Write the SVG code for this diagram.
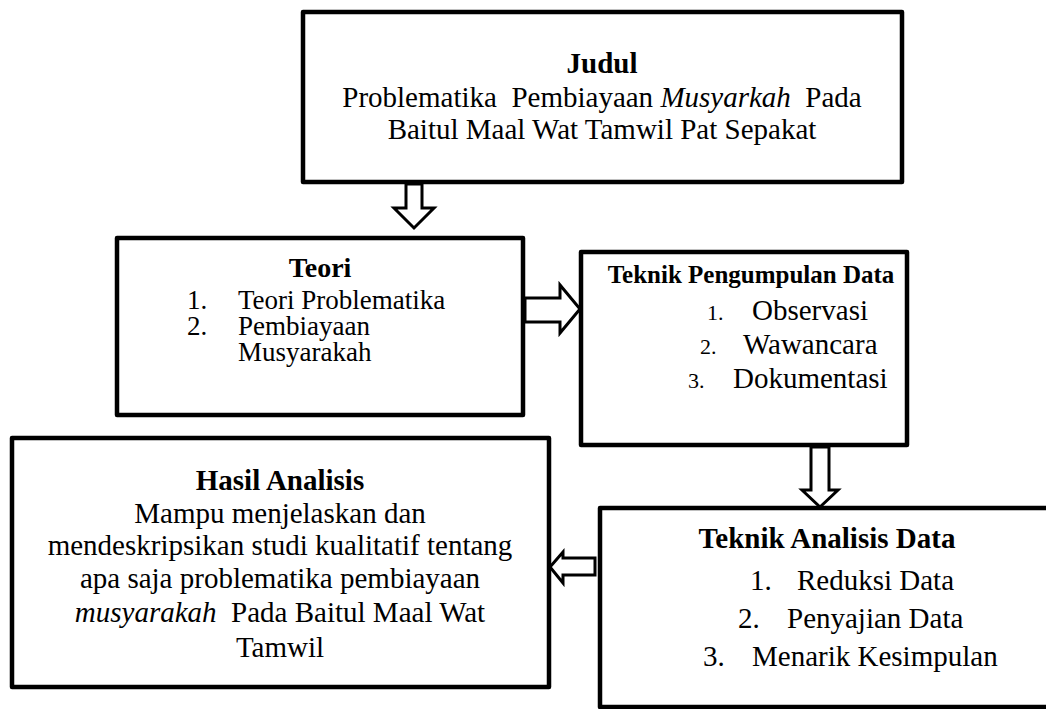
<svg xmlns="http://www.w3.org/2000/svg" width="1046" height="709" viewBox="0 0 1046 709">
<style>
.box{fill:#fff;stroke:#000;stroke-width:4.5;stroke-linejoin:round}
.arr{fill:#fff;stroke:#000;stroke-width:3;stroke-linejoin:miter}
text{font-family:"Liberation Serif","Times New Roman",serif;fill:#000;white-space:pre}
.t{font-size:29px}
.h{font-size:29px;font-weight:bold}
.c{text-anchor:middle}
.it{font-style:italic}
.s27{font-size:27px}
.s22{font-size:22px}
</style>
<rect width="1046" height="709" fill="#fff"/>
<g id="connectors">
<path class="arr" d="M406,184 L406,208 L394,208 L414,228 L434,208 L422,208 L422,184 Z"/>
<path class="arr" d="M525,298 L560,298 L560,285 L580,309 L560,333 L560,322 L525,322 Z"/>
<path class="arr" d="M811,447 L811,490 L802,490 L820,507 L838,490 L829,490 L829,447 Z"/>
<path class="arr" d="M595,558 L563,558 L563,552 L550,567 L563,583 L563,575 L595,575 Z"/>
</g>
<g id="judul">
<rect class="box" x="303" y="12" width="599" height="170"/>
<text class="h c" x="602" y="73">Judul</text>
<text class="t c" x="602" y="107">Problematika  Pembiayaan <tspan class="it">Musyarkah</tspan>  Pada</text>
<text class="t c" x="602" y="139">Baitul Maal Wat Tamwil Pat Sepakat</text>
</g>
<g id="teori">
<rect class="box" x="117" y="238" width="406" height="177"/>
<text class="h c" x="320" y="277" style="font-size:28px">Teori</text>
<text class="t s27" x="187" y="309">1.</text>
<text class="t s27" x="238" y="309">Teori Problematika</text>
<text class="t s27" x="187" y="335">2.</text>
<text class="t s27" x="238" y="335">Pembiayaan</text>
<text class="t s27" x="238" y="361">Musyarakah</text>
</g>
<g id="pengumpulan">
<rect class="box" x="581" y="252" width="326" height="193"/>
<text class="h c" x="751" y="283" style="font-size:25px">Teknik Pengumpulan Data</text>
<text class="t s22" x="707" y="320">1.</text>
<text class="t" x="752" y="320">Observasi</text>
<text class="t s22" x="700" y="354">2.</text>
<text class="t" x="743" y="354">Wawancara</text>
<text class="t s22" x="688" y="388">3.</text>
<text class="t" x="733" y="388">Dokumentasi</text>
</g>
<g id="analisis">
<rect class="box" x="600" y="508" width="460" height="199"/>
<text class="h c" x="827" y="548">Teknik Analisis Data</text>
<text class="t" x="750" y="590">1.</text>
<text class="t" x="797" y="590">Reduksi Data</text>
<text class="t" x="738" y="628">2.</text>
<text class="t" x="787" y="628">Penyajian Data</text>
<text class="t" x="703" y="666">3.</text>
<text class="t" x="752" y="666">Menarik Kesimpulan</text>
</g>
<g id="hasil">
<rect class="box" x="12" y="438" width="537" height="249"/>
<text class="h c" x="280" y="490">Hasil Analisis</text>
<text class="t c" x="280" y="523">Mampu menjelaskan dan</text>
<text class="t c" x="280" y="555">mendeskripsikan studi kualitatif tentang</text>
<text class="t c" x="280" y="588">apa saja problematika pembiayaan</text>
<text class="t c" x="280" y="622"><tspan class="it">musyarakah</tspan>  Pada Baitul Maal Wat</text>
<text class="t c" x="280" y="657">Tamwil</text>
</g>
</svg>
